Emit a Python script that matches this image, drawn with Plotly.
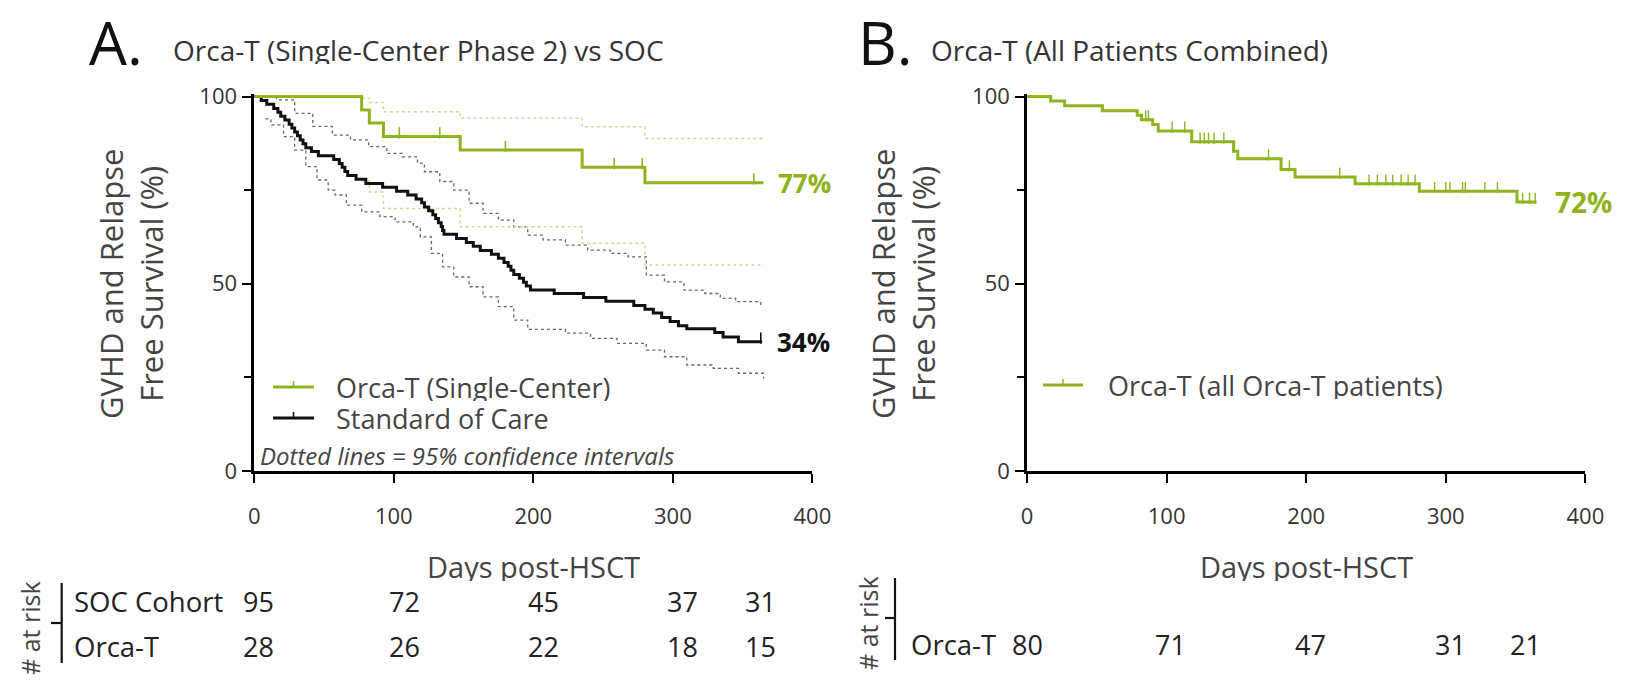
import bisect
import plotly.graph_objects as go

W, H = 1627, 684

# ---------------- DATA ----------------
# Panel A - Orca-T single-center (n=28), Kaplan-Meier steps (day, % free survival)
orca_sc_days = [0, 77, 82.5, 92.6, 147.6, 235, 280, 365]
orca_sc_surv = [100, 96.4, 92.9, 89.3, 85.7, 81.1, 77.0, 77.0]
orca_sc_censor = [104, 133, 180, 258, 278, 358]
orca_sc_ci_days = [77, 82.5, 92.6, 147.6, 235, 280, 365]
orca_sc_ci_upper = [99.6, 98.4, 95.9, 94.2, 91.9, 88.8, 88.8]
orca_sc_ci_lower = [77.5, 74.5, 70.1, 65.2, 60.8, 55.0, 55.0]

# Panel A - Standard of care (n=95)
soc_days = [0, 5, 9, 14, 17, 19, 22, 25, 27, 29, 31, 33, 35, 37, 41, 46, 57, 61, 63, 65,
            67, 73, 80, 92, 102, 110, 116, 120, 122, 125, 128, 130, 132, 134, 135, 136,
            145, 152, 157, 162, 170, 175, 179, 182, 184, 186, 190, 193, 195, 198, 215,
            236, 252, 272, 280, 286, 292, 298, 304, 310, 330, 336, 347, 364]
soc_surv = [100, 98.9, 97.9, 96.8, 95.8, 94.7, 93.7, 92.6, 91.6, 90.5, 89.5, 88.4, 87.4,
            86.3, 85.3, 84.2, 83.2, 82.1, 81.1, 80.0, 78.9, 77.9, 76.8, 75.8, 74.7, 73.7,
            72.6, 71.6, 70.5, 69.5, 68.4, 67.4, 66.3, 65.3, 64.2, 63.2, 62.1, 61.0, 60.0,
            58.9, 57.9, 56.8, 55.7, 54.7, 53.6, 52.5, 51.5, 50.4, 49.4, 48.3, 47.4, 46.3,
            45.3, 44.2, 43.2, 42.2, 41.0, 39.9, 38.8, 38.0, 37.0, 35.8, 34.5, 34.5]
soc_censor = [363]
soc_ci_up_days = [3, 16, 29, 42, 56, 69, 82, 95, 106, 117, 122, 133, 143, 154, 164, 175,
                  186, 196, 207, 223, 239, 255, 268, 281, 294, 308, 323, 334, 345, 363]
soc_ci_upper = [100, 99.1, 95.5, 92.0, 89.7, 88.4, 86.6, 84.8, 83.9, 82.2, 79.9, 77.3, 75.0,
                71.5, 68.8, 67.0, 65.2, 63.0, 61.7, 60.3, 59.0, 58.1, 57.2, 52.3, 50.5,
                48.3, 47.4, 46.1, 45.2, 43.9]
soc_ci_lo_days = [8, 12, 21, 29, 37, 45, 53, 58, 66, 77, 90, 101, 114, 119, 127, 135, 143,
                  154, 164, 175, 186, 196, 223, 241, 260, 281, 294, 310, 329, 347, 365]
soc_ci_lower = [94.0, 92.4, 89.3, 85.7, 81.3, 77.7, 75.0, 73.7, 71.0, 69.2, 67.9, 66.5,
                65.2, 62.5, 58.1, 54.5, 51.8, 49.2, 46.5, 43.9, 40.3, 37.8, 36.8, 35.4,
                34.1, 32.3, 30.5, 28.3, 27.4, 26.1, 24.7]

# Panel B - Orca-T, all patients (n=80)
orca_all_days = [0, 17, 27, 54, 79, 82, 90, 94, 118, 148, 151, 182, 192, 235, 281, 351, 365]
orca_all_surv = [100, 98.8, 97.5, 96.2, 95.0, 93.8, 92.5, 90.8, 87.9, 85.4, 83.4, 80.5,
                 78.5, 76.7, 74.7, 71.8, 71.8]
orca_all_censor = [85, 87, 104, 113, 124, 127, 130, 134, 141, 173, 188, 224, 245, 251, 257,
                   262, 268, 273, 278, 292, 300, 303, 312, 314, 328, 337, 355, 360, 364]

# Numbers at risk
risk_rows_A = ["SOC Cohort", "Orca-T"]
risk_soc_A = [95, 72, 45, 37, 31]
risk_orca_A = [28, 26, 22, 18, 15]
risk_rows_B = ["Orca-T"]
risk_orca_B = [80, 71, 47, 31, 21]

x_ticks = [0, 100, 200, 300, 400]
y_ticks = [0, 50, 100]
y_minor = [25, 75]

# ---------------- STYLE ----------------
GREEN = "#8DB41A"
LIGHT_GREEN = "#CADD92"
BLACK = "#111111"
CI_GRAY = "#666666"
TXT = "#444444"
FONT = "Open Sans"


def px(x):
    return x / W


def py(y):
    return 1 - y / H


def step_at(days, surv, t):
    i = bisect.bisect_right(days, t) - 1
    return surv[max(i, 0)]


fig = go.Figure()

# ---- Panel A traces ----
fig.add_trace(go.Scatter(x=soc_ci_up_days, y=soc_ci_upper, mode="lines", line_shape="hv",
                         line=dict(color=CI_GRAY, width=1.3, dash="dot"),
                         xaxis="x", yaxis="y", hoverinfo="skip", showlegend=False))
fig.add_trace(go.Scatter(x=soc_ci_lo_days, y=soc_ci_lower, mode="lines", line_shape="hv",
                         line=dict(color=CI_GRAY, width=1.3, dash="dot"),
                         xaxis="x", yaxis="y", hoverinfo="skip", showlegend=False))
fig.add_trace(go.Scatter(x=orca_sc_ci_days, y=orca_sc_ci_upper, mode="lines", line_shape="hv",
                         line=dict(color=LIGHT_GREEN, width=1.5, dash="dot"),
                         xaxis="x", yaxis="y", hoverinfo="skip", showlegend=False))
fig.add_trace(go.Scatter(x=orca_sc_ci_days, y=orca_sc_ci_lower, mode="lines", line_shape="hv",
                         line=dict(color=LIGHT_GREEN, width=1.5, dash="dot"),
                         xaxis="x", yaxis="y", hoverinfo="skip", showlegend=False))
fig.add_trace(go.Scatter(x=soc_days, y=soc_surv, mode="lines", line_shape="hv",
                         line=dict(color=BLACK, width=3), name="Standard of Care",
                         xaxis="x", yaxis="y", showlegend=False))
fig.add_trace(go.Scatter(x=orca_sc_days, y=orca_sc_surv, mode="lines", line_shape="hv",
                         line=dict(color=GREEN, width=3), name="Orca-T (Single-Center)",
                         xaxis="x", yaxis="y", showlegend=False))
fig.add_trace(go.Scatter(x=orca_sc_censor,
                         y=[step_at(orca_sc_days, orca_sc_surv, t) + 1.0 for t in orca_sc_censor],
                         mode="markers", marker=dict(symbol="line-ns", size=8,
                                                     line=dict(color=GREEN, width=1.6)),
                         xaxis="x", yaxis="y", hoverinfo="skip", showlegend=False))
fig.add_trace(go.Scatter(x=soc_censor,
                         y=[step_at(soc_days, soc_surv, t) + 1.0 for t in soc_censor],
                         mode="markers", marker=dict(symbol="line-ns", size=8,
                                                     line=dict(color=BLACK, width=1.6)),
                         xaxis="x", yaxis="y", hoverinfo="skip", showlegend=False))

# ---- Panel B traces ----
fig.add_trace(go.Scatter(x=orca_all_days, y=orca_all_surv, mode="lines", line_shape="hv",
                         line=dict(color=GREEN, width=3), name="Orca-T (all Orca-T patients)",
                         xaxis="x2", yaxis="y2", showlegend=False))
fig.add_trace(go.Scatter(x=orca_all_censor,
                         y=[step_at(orca_all_days, orca_all_surv, t) + 1.0 for t in orca_all_censor],
                         mode="markers", marker=dict(symbol="line-ns", size=8,
                                                     line=dict(color=GREEN, width=1.4)),
                         xaxis="x2", yaxis="y2", hoverinfo="skip", showlegend=False))

# ---- Axes ----
y_dom = [py(471), py(471 - 100.8 * 3.745)]
xA_dom = [px(254.2), px(812.4)]
xB_dom = [px(1027.0), px(1585.4)]

xax = dict(range=[0, 400], tickvals=x_ticks, ticks="outside", ticklen=9, tickwidth=2.2,
           tickcolor="black", showline=True, linewidth=2.5, linecolor="black",
           showgrid=False, zeroline=False, tickfont=dict(family=FONT, size=22, color="#333"),
           ticklabelstandoff=15, fixedrange=True, automargin=False)
yax = dict(range=[0, 100.8], tickvals=y_ticks, ticks="outside", ticklen=9, tickwidth=2.2,
           tickcolor="black", showline=True, linewidth=2.5, linecolor="black",
           showgrid=False, zeroline=False, tickfont=dict(family=FONT, size=22, color="#333"),
           ticklabelstandoff=1, fixedrange=True, automargin=False,
           minor=dict(tickvals=y_minor, ticks="outside", ticklen=7, tickwidth=2.2,
                      tickcolor="black", showgrid=False))

fig.update_layout(
    template="none",
    width=W, height=H, margin=dict(l=0, r=0, t=0, b=0, autoexpand=False),
    paper_bgcolor="white", plot_bgcolor="white", showlegend=False,
    xaxis=dict(domain=xA_dom, anchor="y", **xax),
    yaxis=dict(domain=y_dom, anchor="x", **yax),
    xaxis2=dict(domain=xB_dom, anchor="y2", **xax),
    yaxis2=dict(domain=y_dom, anchor="x2", **yax),
)

ann = []
shapes = []


def text(x, y, s, size, color=TXT, xanchor="left", angle=0, bold=False, italic=False,
         ref=("paper", "paper"), xshift=0, tight=True):
    a = dict(x=x, y=y, xref=ref[0], yref=ref[1], text=s, showarrow=False,
             xanchor=xanchor, yanchor="middle", textangle=angle, xshift=xshift,
             borderpad=0,
             font=dict(family=FONT, size=size, color=color,
                       weight="bold" if bold else "normal",
                       style="italic" if italic else "normal"))
    if tight and angle == 0:
        a["height"] = int(size * 1.0)
    ann.append(a)


def seg(x0, y0, x1, y1, color, width):
    shapes.append(dict(type="line", xref="paper", yref="paper", x0=px(x0), y0=py(y0),
                       x1=px(x1), y1=py(y1), line=dict(color=color, width=width)))


# Panel letters and titles
text(px(88), py(42), "A.", 60, color="#111")
text(px(172), py(50), "Orca-T (Single-Center Phase 2) vs SOC", 28, color="#333")
text(px(857), py(42), "B.", 60, color="#111")
text(px(930), py(50), "Orca-T (All Patients Combined)", 28, color="#333")

# Y-axis titles
for cx in (131, 903):
    text(px(cx), py(284), "GVHD and Relapse<br>Free Survival (%)", 31, xanchor="center",
         angle=-90)
# X-axis titles
text(px(533), py(566), "Days post-HSCT", 29, xanchor="center")
text(px(1306), py(566), "Days post-HSCT", 29, xanchor="center")

# End-point labels
text(orca_sc_days[-1], orca_sc_surv[-1], "77%", 26, color=GREEN, bold=True,
     ref=("x", "y"), xshift=13)
text(soc_days[-1], soc_surv[-1], "34%", 26, color="#111", bold=True,
     ref=("x", "y"), xshift=14)
text(orca_all_days[-1], orca_all_surv[-1], "72%", 28, color=GREEN, bold=True,
     ref=("x2", "y2"), xshift=17)

# Legend A
seg(273, 387, 314, 387, GREEN, 3)
seg(293.5, 387, 293.5, 381, GREEN, 1.6)
text(px(335), py(387), "Orca-T (Single-Center)", 27)
seg(273, 418, 314, 418, BLACK, 3)
seg(293.5, 418, 293.5, 412, BLACK, 1.6)
text(px(335), py(418), "Standard of Care", 27)
text(px(259), py(455), "Dotted lines = 95% confidence intervals", 24, italic=True)

# Legend B
seg(1043, 385, 1083, 385, GREEN, 3)
seg(1063, 385, 1063, 379, GREEN, 1.4)
text(px(1107), py(385), "Orca-T (all Orca-T patients)", 27)

# Numbers at risk - panel A
text(px(30), py(628), "# at risk", 25, xanchor="center", angle=-90)
seg(61.7, 583, 61.7, 663, BLACK, 2.2)
seg(51, 623, 61.7, 623, BLACK, 2.2)
rowsA_y = [601, 646]
colsA_x = [258, 404, 543, 682, 760]
for lab, yy in zip(risk_rows_A, rowsA_y):
    text(px(73), py(yy), lab, 27.5, color="#222")
for vals, yy in zip([risk_soc_A, risk_orca_A], rowsA_y):
    for v, xx in zip(vals, colsA_x):
        text(px(xx), py(yy), str(v), 27, color="#222", xanchor="center")

# Numbers at risk - panel B
text(px(868), py(623), "# at risk", 25, xanchor="center", angle=-90)
seg(895, 578, 895, 660, BLACK, 2.2)
seg(885, 618, 895, 618, BLACK, 2.2)
colsB_x = [1027, 1170, 1310, 1450, 1525]
for lab in risk_rows_B:
    text(px(910), py(644), lab, 27.5, color="#222")
for v, xx in zip(risk_orca_B, colsB_x):
    text(px(xx), py(644), str(v), 27, color="#222", xanchor="center")

fig.update_layout(annotations=ann, shapes=shapes)
fig.write_html("out.html", config={"displayModeBar": False},
               post_script="document.body.style.margin='0px';")
